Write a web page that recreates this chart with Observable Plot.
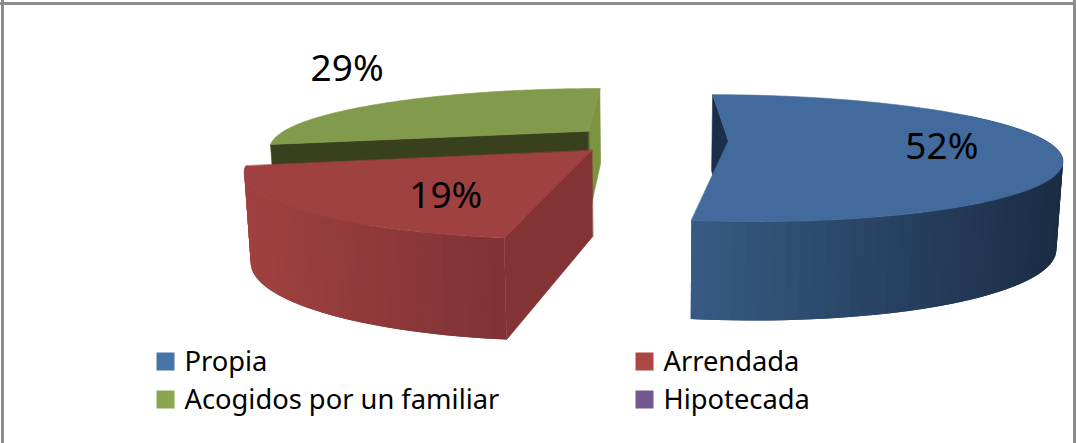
<!DOCTYPE html>
<html>
<head>
<meta charset="utf-8">
<style>html,body{margin:0;padding:0;background:#fff}svg{display:block}</style>
<script src="https://cdn.jsdelivr.net/npm/d3@7"></script>
<script src="https://cdn.jsdelivr.net/npm/@observablehq/plot@0.6"></script>
</head>
<body>
<script>
const categories = ["Propia", "Arrendada", "Acogidos por un familiar", "Hipotecada"];
const values = [52.4, 19, 28.6, 0];
const legendColors = ["#4673a8", "#aa4643", "#8aa64f", "#71588f"];
const topColors = ["#426a9c", "#9e4140", "#819a4b"];
const sideLeft = ["#365b84", "#a04140", "#7a9440"];
const sideRight = ["#1b2c44", "#7f3234", "#7a9440"];
const cutColors = ["#1b2e4a", "#843335", "#38401e"];

const W = 1076, H = 443;
const vx = 648, vy = -95, a = 0.004255, b = 0.00075;
const Rx = 1.35, RzFar = 1.38, RzNear = 1.45, explode = 0.34, cz = 0.02;
const depthA = 42, depthB = 0.18, inset = 0.984;
const rad = Math.PI / 180;

const arcs = d3.pie().sort(null).startAngle(0).endAngle(2 * Math.PI)(values);
const slices = arcs.map(d => {
  const mid = (d.startAngle + d.endAngle) / 2;
  return {i: d.index, t0: d.startAngle, t1: d.endAngle, mid,
    ax: explode * Math.sin(mid), az: cz + explode * Math.cos(mid)};
});

// r is a fraction of the pie radius
function topPt(sl, t, r) {
  const c = Math.cos(t);
  const gx = sl.ax + r * Rx * Math.sin(t);
  const gz = sl.az + r * (c < 0 ? RzNear : RzFar) * c;
  const s = 1 / (a + b * gz);
  return {x: vx + gx * s, y: vy + s, s, gx};
}
function botPt(sl, t, r) {
  const p = topPt(sl, t, r);
  return {x: vx + p.gx * p.s * inset, y: p.y + depthA + depthB * p.s};
}
const steps = (t0, t1, n) => d3.range(n + 1).map(k => t0 + (t1 - t0) * k / n);

function topFace(sl) {
  return [topPt(sl, 0, 0), ...steps(sl.t0, sl.t1, 90).map(t => topPt(sl, t, 1))];
}
function cutFace(sl, t) {
  return [topPt(sl, t, 0), topPt(sl, t, 1), botPt(sl, t, 1), botPt(sl, t, 0)];
}
function sideStrips(sl, t0, t1, n) {
  const ts = steps(t0, t1, n), rows = [];
  const xs = ts.map(t => topPt(sl, t, 1).x);
  const [x0, x1] = d3.extent(xs);
  const ramp = d3.interpolateRgb(sideLeft[sl.i], sideRight[sl.i]);
  for (let k = 0; k < n; k++) {
    const c = d3.color(ramp(((xs[k] + xs[k + 1]) / 2 - x0) / (x1 - x0))).formatHex();
    const e = ts[Math.min(k + 2, n)]; // overlap the next strip so no seam shows
    [topPt(sl, ts[k], 1), topPt(sl, e, 1), botPt(sl, e, 1), botPt(sl, ts[k], 1)]
      .forEach(p => rows.push({x: p.x, y: p.y, k, c}));
  }
  return rows;
}
const poly = (rows, fill) => Plot.line(rows, {x: "x", y: "y", curve: "linear-closed", fill, stroke: fill, strokeWidth: 0.6});
const strips = rows => Plot.line(rows, {x: "x", y: "y", z: "k", curve: "linear-closed", fill: "c", stroke: "none"});

const [blue, red, green] = slices;

const labelR = [0.626, 0.576, 1.439], labelDx = [12, 7, 32], labelDy = [4, 15, -23];
const labels = slices.slice(0, 3).map((sl, i) => {
  const p = topPt(sl, sl.mid, labelR[i]);
  return {x: p.x + labelDx[i], y: p.y + labelDy[i], text: `${Math.round(values[i])}%`};
});

const legendCols = [165, 644], legendRows = [361, 399];
const legend = categories.map((name, i) => ({
  name, color: legendColors[i], x: legendCols[i % 2], y: legendRows[Math.floor(i / 2)]
}));

const font = "'Noto Sans', sans-serif";
const chart = Plot.plot({
  width: W, height: H, margin: 0,
  x: {domain: [0, W], range: [0, W], axis: null},
  y: {domain: [0, H], range: [0, H], axis: null},
  color: {type: "identity"},
  style: {background: "#fff", fontFamily: font},
  marks: [
    // green slice (back)
    poly(cutFace(green, green.t1), sideLeft[2]),
    poly(cutFace(green, green.t0), cutColors[2]),
    poly(topFace(green), topColors[2]),
    // blue slice
    poly(cutFace(blue, blue.t0), cutColors[0]),
    strips(sideStrips(blue, blue.t0 + 60 * rad, blue.t1, 70)),
    poly(topFace(blue), topColors[0]),
    // red slice (front)
    strips(sideStrips(red, red.t0, red.t1, 40)),
    poly(cutFace(red, red.t0), cutColors[1]),
    poly(topFace(red), topColors[1]),
    Plot.text(labels, {x: "x", y: "y", text: "text", fontSize: 37, fill: "#000", fontFamily: font}),
    Plot.dot(legend, {x: "x", y: "y", symbol: "square", r: 10.16, fill: "color", stroke: "none"}),
    Plot.text(legend, {x: d => d.x + 19, y: d => d.y + 1, text: "name", textAnchor: "start", fontSize: 27.3, fill: "#000", fontFamily: font}),
    // frame: left, right and top rules of the chart area
    Plot.ruleX([2, 1074], {stroke: "#8c8c8c", strokeWidth: 3}),
    Plot.ruleY([3], {stroke: "#8c8c8c", strokeWidth: 3})
  ]
});
document.body.appendChild(chart);
</script>
</body>
</html>
